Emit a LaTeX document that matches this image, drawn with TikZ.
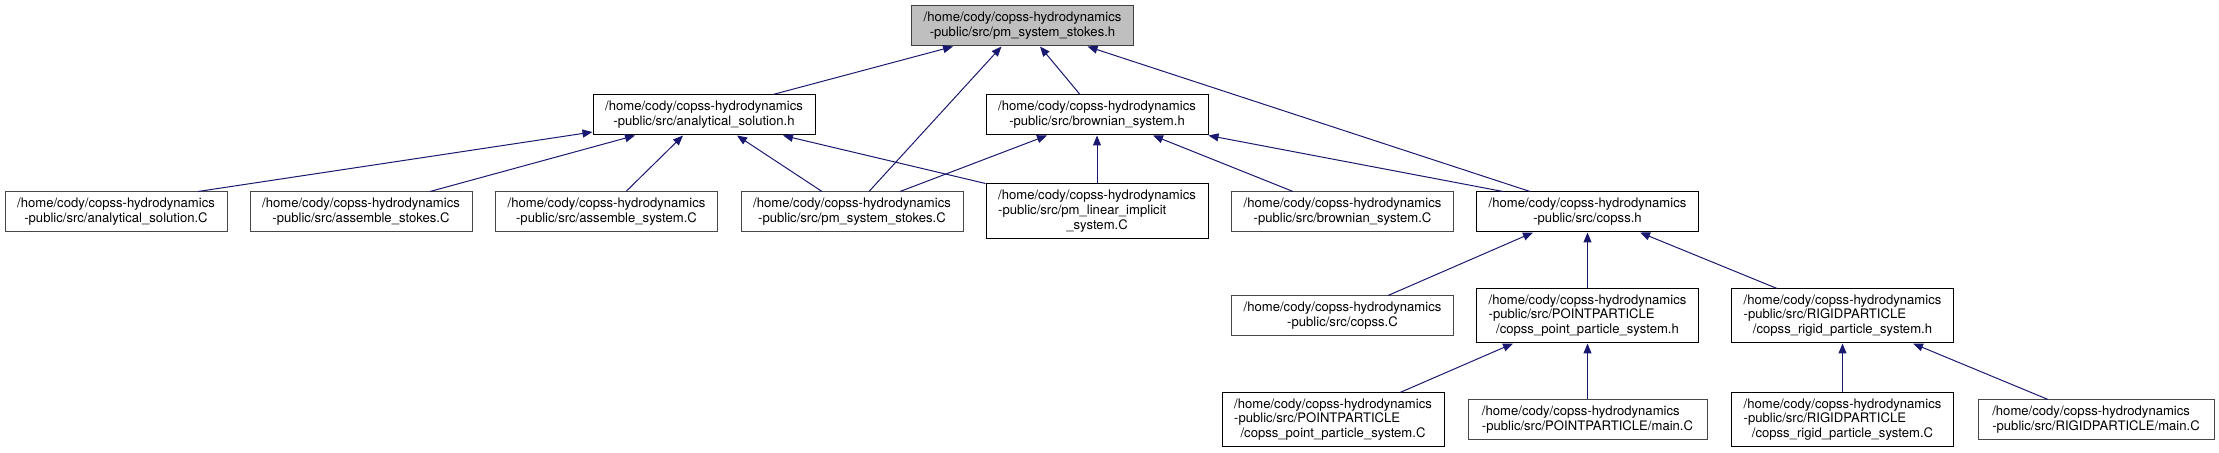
\documentclass[tikz,border=0pt]{standalone}
\usepackage{fontspec}
\setmainfont{TeX Gyre Heros}
\usepackage{tikz}
\usetikzlibrary{arrows.meta}
\usepackage{xcolor}
\definecolor{doxblue}{HTML}{191970}
\definecolor{doxgrey}{HTML}{BFBFBF}
\newcommand{\doxfont}{\fontsize{6.55pt}{7.4pt}\selectfont}
\newcommand{\twoline}[2]{\begin{tabular}{@{}l@{}}#1\\\multicolumn{1}{@{}c@{}}{#2}\end{tabular}}
\newcommand{\threeline}[3]{\begin{tabular}{@{}l@{}}#1\\#2\\\multicolumn{1}{@{}c@{}}{#3}\end{tabular}}
\newcommand{\cody}{/home/cody/copss-hydrodynamics}
\tikzset{
  filebox/.style={draw=black, line width=0.5pt, fill=white, inner xsep=3pt, inner ysep=0pt, minimum width=111pt, minimum height=20pt, font=\doxfont},
  leafbox/.style={filebox, draw=black!72},
  rootbox/.style={filebox, draw=black!75, fill=doxgrey},
  incarrow/.style={-{Triangle[length=5pt,width=4pt]}, draw=doxblue, line width=0.5pt}
}

\begin{document}
\begin{tikzpicture}[x=0.5pt, y=-0.5pt]
\useasboundingbox (0,0) rectangle (2219,453);
% root
\node[rootbox] (T) at (1022.5,26) {\twoline{\cody}{-public/src/pm\_system\_stokes.h}};
% headers
\node[filebox] (AH) at (704,115) {\twoline{\cody}{-public/src/analytical\_solution.h}};
\node[filebox] (BH) at (1097,115) {\twoline{\cody}{-public/src/brownian\_system.h}};
% sources and copss.h
\node[leafbox] (ASC) at (116,212) {\twoline{\cody}{-public/src/analytical\_solution.C}};
\node[leafbox] (AST) at (361,212) {\twoline{\cody}{-public/src/assemble\_stokes.C}};
\node[leafbox] (ASY) at (606.5,212) {\twoline{\cody}{-public/src/assemble\_system.C}};
\node[leafbox] (PSC) at (852,212) {\twoline{\cody}{-public/src/pm\_system\_stokes.C}};
\node[filebox, minimum height=27.5pt] (PLI) at (1097,211.5) {\threeline{\cody}{-public/src/pm\_linear\_implicit}{\_system.C}};
\node[leafbox] (BSC) at (1342.5,212) {\twoline{\cody}{-public/src/brownian\_system.C}};
\node[filebox] (CH) at (1587.5,212) {\twoline{\cody}{-public/src/copss.h}};
% particle headers
\node[leafbox] (CC) at (1342.5,316) {\twoline{\cody}{-public/src/copss.C}};
\node[filebox, minimum height=27pt] (PPH) at (1587.5,316) {\threeline{\cody}{-public/src/POINTPARTICLE}{/copss\_point\_particle\_system.h}};
\node[filebox, minimum height=27pt] (RPH) at (1842.5,316) {\threeline{\cody}{-public/src/RIGIDPARTICLE}{/copss\_rigid\_particle\_system.h}};
% particle sources
\node[filebox, minimum height=27pt] (PPC) at (1333,420) {\threeline{\cody}{-public/src/POINTPARTICLE}{/copss\_point\_particle\_system.C}};
\node[leafbox, minimum width=119.5pt] (PPM) at (1587.5,420) {\twoline{\cody}{-public/src/POINTPARTICLE/main.C}};
\node[filebox, minimum height=27pt] (RPC) at (1842.5,420) {\threeline{\cody}{-public/src/RIGIDPARTICLE}{/copss\_rigid\_particle\_system.C}};
\node[leafbox, minimum width=118pt] (RPM) at (2096,420) {\twoline{\cody}{-public/src/RIGIDPARTICLE/main.C}};
% includes of the root
\draw[incarrow] ([xshift=34.5pt]AH.north) -- ([xshift=-34.75pt]T.south);
\draw[incarrow] ([xshift=8.5pt]PSC.north) -- ([xshift=-10.5pt]T.south);
\draw[incarrow] ([xshift=-8.5pt]BH.north) -- ([xshift=8.75pt]T.south);
\draw[incarrow] ([xshift=-28.75pt]CH.north) -- ([xshift=32.5pt]T.south);
% includes of analytical_solution.h
\draw[incarrow] ([xshift=41pt]ASC.north) -- ([yshift=-8.5pt]AH.west);
\draw[incarrow] ([xshift=34.5pt]AST.north) -- ([xshift=-34.5pt]AH.south);
\draw[incarrow] ([xshift=9.75pt]ASY.north) -- ([xshift=-10.5pt]AH.south);
\draw[incarrow] ([xshift=-15pt]PSC.north) -- ([xshift=16.5pt]AH.south);
\draw[incarrow] (PLI.north west) -- ([xshift=39.5pt]AH.south);
% includes of brownian_system.h
\draw[incarrow] ([xshift=24pt]PSC.north) -- ([xshift=-25pt]BH.south);
\draw[incarrow] (PLI.north) -- (BH.south);
\draw[incarrow] ([xshift=-24.75pt]BSC.north) -- ([xshift=28pt]BH.south);
\draw[incarrow] ([xshift=-42.25pt]CH.north) -- (BH.south east);
% includes of copss.h
\draw[incarrow] ([xshift=22.75pt]CC.north) -- ([xshift=-27.25pt]CH.south);
\draw[incarrow] (PPH.north) -- (CH.south);
\draw[incarrow] ([xshift=-32.75pt]RPH.north) -- ([xshift=26.25pt]CH.south);
% particle includes
\draw[incarrow] ([xshift=33.5pt]PPC.north) -- ([xshift=-37.25pt]PPH.south);
\draw[incarrow] (PPM.north) -- (PPH.south);
\draw[incarrow] (RPC.north) -- (RPH.south);
\draw[incarrow] ([xshift=-24pt]RPM.north) -- ([xshift=35.25pt]RPH.south);
\end{tikzpicture}
\end{document}
